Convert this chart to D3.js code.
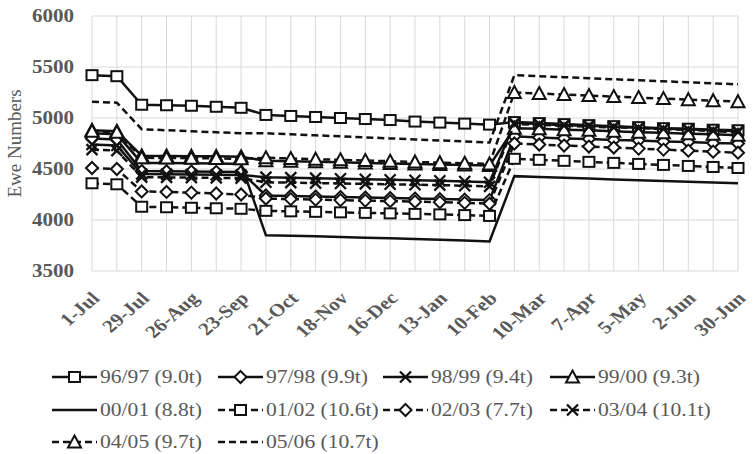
<!DOCTYPE html>
<html><head><meta charset="utf-8">
<script src="https://cdn.jsdelivr.net/npm/d3@7"></script>
<style>body{margin:0;background:#fff}svg{display:block}</style>
</head><body>
<svg id="c" width="754" height="454"></svg>
<script>
const dates = ["1-Jul","15-Jul","29-Jul","12-Aug","26-Aug","9-Sep","23-Sep","7-Oct","21-Oct","4-Nov","18-Nov","2-Dec","16-Dec","30-Dec","13-Jan","27-Jan","10-Feb","24-Feb","10-Mar","24-Mar","7-Apr","21-Apr","5-May","19-May","2-Jun","16-Jun","30-Jun"];
const tickLabels = ["1-Jul","29-Jul","26-Aug","23-Sep","21-Oct","18-Nov","16-Dec","13-Jan","10-Feb","10-Mar","7-Apr","5-May","2-Jun","30-Jun"];
const yTicks = [3500,4000,4500,5000,5500,6000];

const s9697 = [5420,5410,5130,5125,5120,5110,5100,5030,5020,5010,5000,4990,4980,4965,4955,4945,4935,4960,4950,4940,4930,4920,4910,4900,4895,4885,4880];
const s9798 = [4800,4790,4480,4478,4475,4472,4470,4240,4235,4230,4225,4220,4215,4210,4205,4200,4195,4820,4810,4800,4795,4785,4780,4770,4765,4755,4750];
const s9899 = [4740,4730,4450,4448,4446,4444,4440,4420,4415,4410,4405,4400,4395,4390,4385,4378,4370,4950,4940,4930,4925,4915,4905,4895,4890,4880,4870];
const s9900 = [4880,4870,4630,4628,4626,4624,4620,4580,4575,4570,4565,4560,4555,4550,4545,4540,4535,4900,4895,4885,4880,4870,4860,4855,4845,4840,4830];
const s0001 = [4850,4840,4560,4558,4556,4553,4550,3850,3845,3840,3833,3826,3820,3813,3806,3798,3790,4430,4422,4414,4406,4398,4390,4382,4375,4368,4360];
const s0102 = [4360,4350,4130,4125,4120,4115,4110,4090,4085,4080,4075,4070,4065,4060,4055,4048,4040,4600,4590,4580,4570,4560,4550,4540,4530,4520,4510];
const s0203 = [4510,4500,4280,4275,4268,4260,4250,4210,4205,4200,4195,4190,4185,4180,4175,4168,4160,4750,4740,4730,4720,4710,4700,4690,4680,4670,4660];
const s0304 = [4690,4680,4420,4418,4416,4413,4410,4370,4366,4362,4358,4354,4350,4346,4342,4336,4330,4940,4932,4924,4916,4908,4900,4892,4884,4872,4860];
const s0405 = [4870,4860,4610,4608,4606,4604,4600,4610,4603,4596,4590,4583,4576,4569,4562,4556,4550,5250,5240,5230,5220,5210,5200,5190,5180,5170,5160];
const s0506 = [5160,5150,4890,4880,4870,4860,4850,4850,4840,4830,4820,4810,4800,4790,4780,4770,4760,5420,5410,5400,5390,5380,5370,5360,5350,5340,5330];

const seriesNames = ["96/97 (9.0t)","97/98 (9.9t)","98/99 (9.4t)","99/00 (9.3t)","00/01 (8.8t)","01/02 (10.6t)","02/03 (7.7t)","03/04 (10.1t)","04/05 (9.7t)","05/06 (10.7t)"];
const seriesValues = [s9697,s9798,s9899,s9900,s0001,s0102,s0203,s0304,s0405,s0506];
const seriesMarkers = ["square","diamond","x","triangle","none","square","diamond","x","triangle","none"];
const seriesDashed = [false,false,false,false,false,true,true,true,true,true];

const svg = d3.select("#c");
const L = 92, R = 738, T = 16, B = 271;
const SX = 1.17;
const x = d3.scalePoint().domain(dates).range([L, R]);
const y = d3.scaleLinear().domain([3500, 6000]).range([B, T]);

const g = svg.append("g");
g.selectAll("line.v").data(dates).join("line")
  .attr("x1", d => x(d)).attr("x2", d => x(d)).attr("y1", T).attr("y2", B)
  .attr("stroke", "#d9d9d9").attr("stroke-width", 1);
g.selectAll("line.h").data(yTicks).join("line")
  .attr("x1", L).attr("x2", R).attr("y1", d => y(d)).attr("y2", d => y(d))
  .attr("stroke", "#d9d9d9").attr("stroke-width", 1);

const ya = svg.append("g").attr("transform", `translate(${L},0)`)
  .call(d3.axisLeft(y).tickValues(yTicks).tickSize(0).tickFormat(d3.format("d")));
ya.select(".domain").remove();
ya.selectAll("text").attr("x", 0).attr("transform", `translate(-18,0) scale(${SX},1)`)
  .attr("font-family", "Liberation Serif").attr("font-size", 18)
  .attr("font-weight", "bold").attr("fill", "#595959");

const xa = svg.append("g").attr("transform", `translate(0,${B})`)
  .call(d3.axisBottom(x).tickValues(tickLabels).tickSize(0));
xa.select(".domain").remove();
xa.selectAll("text")
  .attr("font-family", "Liberation Serif").attr("font-size", 18).attr("font-weight", "bold")
  .attr("fill", "#595959").attr("text-anchor", "end")
  .attr("transform", `translate(3,24) scale(${SX},1) rotate(-45)`).attr("dy", "0.35em").attr("y", 0).attr("x", 0);

svg.append("text").attr("transform", `translate(21,${(T+B)/2}) rotate(-90)`)
  .attr("text-anchor", "middle").attr("font-family", "Liberation Serif").attr("font-size", 19)
  .attr("fill", "#595959").text("Ewe Numbers");

function drawMarker(sel, type, cx, cy) {
  let m;
  if (type === "square") {
    m = sel.append("rect").attr("x", cx - 5.5).attr("y", cy - 5).attr("width", 11).attr("height", 10);
  } else if (type === "diamond") {
    m = sel.append("path").attr("d", `M${cx},${cy-6}L${cx+6},${cy}L${cx},${cy+6}L${cx-6},${cy}Z`);
  } else if (type === "triangle") {
    m = sel.append("path").attr("d", `M${cx},${cy-6.5}L${cx+6.5},${cy+5.5}L${cx-6.5},${cy+5.5}Z`);
  } else if (type === "x") {
    m = sel.append("path").attr("d", `M${cx-5.5},${cy-5.5}L${cx+5.5},${cy+5.5}M${cx+5.5},${cy-5.5}L${cx-5.5},${cy+5.5}`);
  } else return;
  m.attr("stroke", "#111").attr("stroke-width", type === "x" ? 2.3 : 2).attr("fill", "#fff");
}

const line = d3.line().x((d, i) => x(dates[i])).y(d => y(d));
const plot = svg.append("g");
seriesValues.forEach((vals, si) => {
  const sg = plot.append("g");
  sg.append("path").attr("d", line(vals)).attr("fill", "none").attr("stroke", "#111")
    .attr("stroke-width", 2.5).attr("stroke-dasharray", seriesDashed[si] ? "7,4" : null);
  vals.forEach((v, i) => drawMarker(sg, seriesMarkers[si], x(dates[i]), y(v)));
});

const colX = [52, 218, 383, 550];
const rowY = [377, 410, 442];
seriesNames.forEach((name, i) => {
  const cx = colX[i % 4], cy = rowY[Math.floor(i / 4)];
  const lg = svg.append("g");
  lg.append("line").attr("x1", cx).attr("x2", cx + 45).attr("y1", cy).attr("y2", cy)
    .attr("stroke", "#111").attr("stroke-width", 2.5)
    .attr("stroke-dasharray", seriesDashed[i] ? "7,4" : null);
  drawMarker(lg, seriesMarkers[i], cx + 22.5, cy);
  lg.append("text").attr("transform", `translate(${cx + 48},${cy}) scale(1.2,1)`).attr("dy", "0.35em")
    .attr("font-family", "Liberation Serif").attr("font-size", 18).attr("fill", "#595959")
    .text(name);
});
</script>
</body></html>
